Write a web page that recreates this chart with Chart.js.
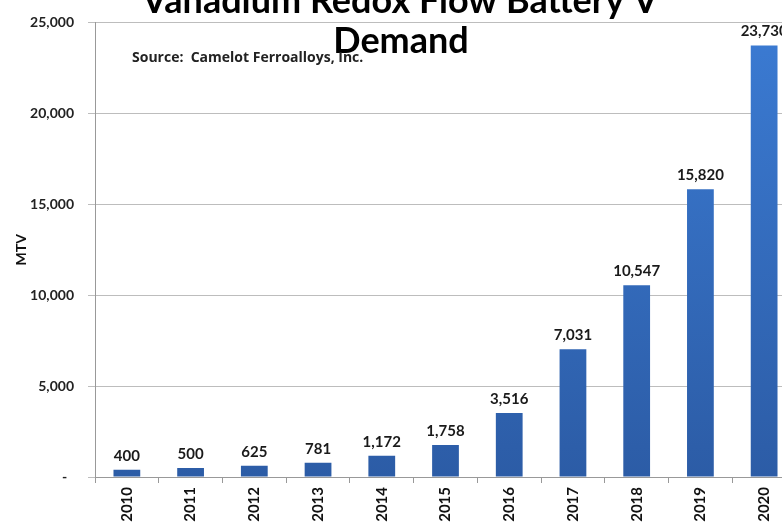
<!DOCTYPE html>
<html>
<head>
<meta charset="utf-8">
<script src="https://cdn.jsdelivr.net/npm/chart.js@4"></script>
<style>
  html, body { margin: 0; padding: 0; overflow: hidden; background: #fff; }
  #wrap { position: absolute; left: 0; top: 0; width: 800px; height: 540px; }
</style>
</head>
<body>
<div id="wrap"><canvas id="myChart" width="800" height="540"></canvas></div>
<script>
const years = ['2010', '2011', '2012', '2013', '2014', '2015', '2016', '2017', '2018', '2019', '2020'];
const demand = [400, 500, 625, 781, 1172, 1758, 3516, 7031, 10547, 15820, 23730];
const titleLines = ['Vanadium Redox Flow Battery V', 'Demand'];
const sourceText = 'Source:  Camelot Ferroalloys, Inc.';
const yTitle = 'MTV';

const FONT = 'Lato, "Open Sans", sans-serif';
const ctx = document.getElementById('myChart').getContext('2d');

// titulo e fonte desenhados por cima da area do grafico
const overlayText = {
  id: 'overlayText',
  afterDraw(chart) {
    const c = chart.ctx;
    c.save();
    c.fillStyle = '#000';
    c.textAlign = 'center';
    c.textBaseline = 'alphabetic';
    c.font = 'bold 36px ' + FONT;
    c.fillText(titleLines[0], 400, 13);
    c.fillText(titleLines[1], 401, 53);
    c.textAlign = 'left';
    c.fillStyle = '#222';
    c.font = 'bold 14px "Open Sans", sans-serif';
    c.fillText(sourceText, 132, 62);
    c.restore();
  }
};

// rotulos de valor acima das barras
const valueLabels = {
  id: 'valueLabels',
  afterDatasetsDraw(chart) {
    const c = chart.ctx;
    const meta = chart.getDatasetMeta(0);
    c.save();
    c.fillStyle = '#1a1a1a';
    c.font = 'bold 15px ' + FONT;
    c.textAlign = 'center';
    c.textBaseline = 'alphabetic';
    meta.data.forEach((bar, i) => {
      c.fillText(demand[i].toLocaleString('en-US'), bar.x, bar.y - 9);
    });
    c.restore();
  }
};

function barGradient(context) {
  const area = context.chart.chartArea;
  if (!area) return '#3470c0';
  const g = context.chart.ctx.createLinearGradient(0, area.top, 0, area.bottom);
  g.addColorStop(0, '#3b7bd3');
  g.addColorStop(1, '#2c5ca6');
  return g;
}

new Chart(ctx, {
  type: 'bar',
  data: {
    labels: years,
    datasets: [{
      label: yTitle,
      data: demand,
      backgroundColor: barGradient,
      borderWidth: 0,
      barPercentage: 0.42,
      categoryPercentage: 1
    }]
  },
  options: {
    responsive: false,
    animation: false,
    layout: { padding: { top: 22, right: 4, left: 0, bottom: 0 } },
    plugins: {
      legend: { display: false },
      title: { display: false },
      tooltip: { enabled: false }
    },
    scales: {
      x: {
        grid: {
          drawOnChartArea: false,
          offset: true,
          tickLength: 6,
          color: '#999'
        },
        border: { color: '#999', width: 1 },
        ticks: {
          minRotation: 90,
          maxRotation: 90,
          padding: 4,
          color: '#111',
          font: { family: FONT, size: 15, weight: 'bold' }
        },
        afterFit(scale) { scale.height = 63; }
      },
      y: {
        min: 0,
        max: 25000,
        ticks: {
          stepSize: 5000,
          padding: 14,
          color: '#222',
          font: { family: FONT, size: 14, weight: 'bold' },
          callback: function(value) {
            return value === 0 ? '-  ' : value.toLocaleString('en-US');
          }
        },
        grid: { color: '#bdbdbd', tickLength: 7 },
        border: { color: '#999', width: 1 },
        title: {
          display: true,
          text: yTitle,
          color: '#111',
          padding: { top: 13, bottom: 0 },
          font: { family: FONT, size: 14, weight: 'bold' }
        },
        afterFit(scale) { scale.width = 95; }
      }
    }
  },
  plugins: [overlayText, valueLabels]
});
</script>
</body>
</html>
